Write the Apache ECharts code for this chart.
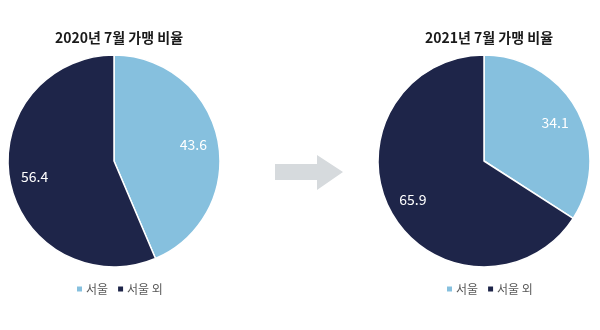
<!DOCTYPE html>
<html><head><meta charset="utf-8">
<script src="https://cdn.jsdelivr.net/npm/echarts@6/dist/echarts.min.js"></script>
<style>html,body{margin:0;padding:0;background:#fff}#c{width:600px;height:330px}</style>
</head><body><div id="c"></div>
<script>
const categories = ['서울', '서울 외'];
const titles = ['2020년 7월 가맹 비율', '2021년 7월 가맹 비율'];
const values2020 = [43.6, 56.4];
const values2021 = [34.1, 65.9];
const colors = ['#86c0de', '#1e2549'];
const FONT = '"Noto Sans CJK KR", "Noto Sans", sans-serif';

const chart = echarts.init(document.getElementById('c'), null, {renderer: 'canvas'});
const centers = [[114, 161], [484, 161]];
const sets = [values2020, values2021];

function pieSeries(vals, center) {
  const data = categories.map((n, i) => ({name: n, value: vals[i], itemStyle: {color: colors[i]}}));
  return [
    {type: 'pie', center: center, radius: [0, 106], startAngle: 90, clockwise: true,
     data: data, label: {show: false}, labelLine: {show: false},
     itemStyle: {borderColor: '#fff', borderWidth: 1.5}, animation: false, silent: true},
    {type: 'pie', center: center, radius: [50, 106], startAngle: 90, clockwise: true,
     data: data.map(d => ({name: d.name, value: d.value, itemStyle: {color: 'transparent'}})),
     label: {show: true, position: 'inside', color: '#fff', fontSize: 14, fontFamily: FONT,
             formatter: p => p.value.toFixed(1)},
     labelLine: {show: false}, itemStyle: {borderWidth: 0}, animation: false, silent: true,
     legendHoverLink: false}
  ];
}

chart.setOption({
  animation: false,
  title: titles.map((t, i) => ({
    text: t, left: centers[i][0], top: 26, textAlign: 'center',
    textStyle: {fontSize: 14, fontWeight: 'bold', color: '#1a1a1a', fontFamily: FONT}
  })),
  legend: centers.map((c, i) => ({
    data: categories, left: c[0] - 44, top: 278, itemWidth: 7, itemHeight: 7, itemGap: 8,
    icon: 'rect', textStyle: {fontSize: 12, color: '#595959', fontFamily: FONT, padding: [0, 0, 0, -2]}
  })),
  graphic: [{
    type: 'polygon', silent: true,
    shape: {points: [[275, 164], [317, 164], [317, 155], [343, 172], [317, 190], [317, 180], [275, 180]]},
    style: {fill: '#d6dadd'}
  }],
  series: [].concat(pieSeries(values2020, centers[0]), pieSeries(values2021, centers[1]))
});
</script></body></html>
